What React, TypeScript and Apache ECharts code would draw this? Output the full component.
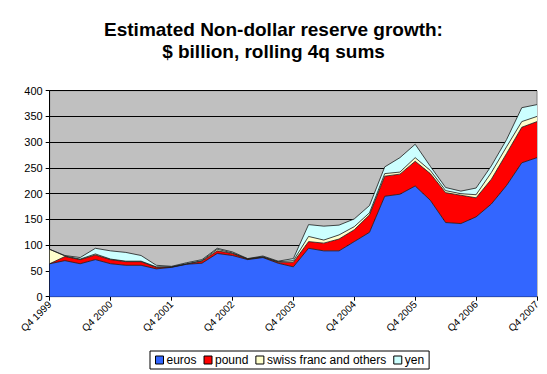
import React, { useEffect, useRef } from "react";
import * as echarts from "echarts";

const quarters: string[] = [];
for (let y = 1999; y <= 2007; y++) {
  for (const q of [1, 2, 3, 4]) {
    if (y === 1999 && q < 4) continue;
    quarters.push(`Q${q} ${y}`);
  }
}

const euros = [64, 70, 64, 72, 64, 61, 61, 54, 57, 63, 65, 84, 80, 72, 76, 65, 58, 94, 89, 89, 107, 125, 195, 199, 215, 187, 144, 142, 155, 180, 216, 260, 270];
const pound = [0, 8, 8, 9, 8, 7, 7, 3, 0.5, 0.5, 4, 5, 4, 1, 1, 2, 9, 13, 15, 23, 23, 34, 39, 39, 48, 52, 58, 55, 37, 48, 62, 69, 70];
const swiss = [28, 1, 1, 2, 1, 1, 1, 1, 0.5, 0.5, 1, 3, 1, 0.5, 0.5, 1, 3, 10, 6, 8, 6, 4, 5, 4, 7, 6, 4, 3, 6, 13, 13, 11, 10];
const yen = [0, 1, 3, 11, 16, 17, 11, 3, 1, 2, 2, 2, 2, 0.5, 1.5, 1, 4, 23, 27, 19, 15, 14, 13, 28, 26, 8, 6, 5, 13, 13, 14, 27, 23];

const yTicks = { min: 0, max: 400, interval: 50 };

export default function App() {
  const ref = useRef<HTMLDivElement>(null);
  useEffect(() => {
    const chart = echarts.init(ref.current!, undefined, { renderer: "svg" });
    const font = "Arial, 'Liberation Sans', sans-serif";
    const mk = (name: string, data: number[], color: string) => ({
      name,
      type: "line",
      stack: "total",
      data,
      symbol: "none",
      smooth: false,
      lineStyle: { color: "#1a1a1a", width: 0.8 },
      areaStyle: { color, opacity: 1 },
      itemStyle: { color, borderColor: "#000", borderWidth: 1 },
    });
    chart.setOption({
      animation: false,
      textStyle: { fontFamily: font },
      title: {
        text: "Estimated Non-dollar reserve growth:\n$ billion, rolling 4q sums",
        left: "center",
        top: 13,
        textStyle: { fontSize: 19, fontWeight: "bold", color: "#000", lineHeight: 22, fontFamily: font, align: "center" },
      },
      legend: {
        top: 351,
        left: 150,
        padding: [3, 5, 3, 5],
        itemGap: 7,
        itemWidth: 8,
        itemHeight: 8,
        icon: "rect",
        borderColor: "#000",
        borderWidth: 1,
        textStyle: { fontSize: 12, color: "#000", fontFamily: font, padding: [0, 0, 0, -2] },
        data: [
          { name: "euros", itemStyle: { borderColor: "#000", borderWidth: 1 } },
          { name: "pound", itemStyle: { borderColor: "#000", borderWidth: 1 } },
          { name: "swiss franc and others", itemStyle: { borderColor: "#000", borderWidth: 1 } },
          { name: "yen", itemStyle: { borderColor: "#000", borderWidth: 1 } },
        ],
      },
      grid: {
        left: 49.7,
        right: 10,
        top: 90.7,
        bottom: 77.3,
        show: true,
        backgroundColor: "#C0C0C0",
        borderColor: "#808080",
        borderWidth: 1,
      },
      xAxis: {
        type: "category",
        boundaryGap: false,
        data: quarters,
        axisLine: { lineStyle: { color: "#000", width: 1 } },
        axisTick: { interval: 3, length: 4, inside: false, lineStyle: { color: "#000" } },
        axisLabel: {
          interval: 3,
          rotate: 45,
          fontSize: 10,
          color: "#000",
          margin: 6,
          fontFamily: font,
        },
        splitLine: { show: false },
      },
      yAxis: {
        type: "value",
        min: yTicks.min,
        max: yTicks.max,
        interval: yTicks.interval,
        axisLine: { show: true, lineStyle: { color: "#000", width: 1 } },
        axisTick: { show: true, length: 4, lineStyle: { color: "#000" } },
        axisLabel: { fontSize: 11, color: "#000", margin: 7, fontFamily: font },
        splitLine: { show: true, lineStyle: { color: "#000", width: 1 } },
      },
      series: [
        mk("euros", euros, "#3366FF"),
        mk("pound", pound, "#FF0000"),
        mk("swiss franc and others", swiss, "#FFFFCC"),
        mk("yen", yen, "#CCFFFF"),
      ],
    });
    return () => chart.dispose();
  }, []);
  return <div ref={ref} style={{ width: 547, height: 374, position: "absolute", left: 0, top: 0 }} />;
}
